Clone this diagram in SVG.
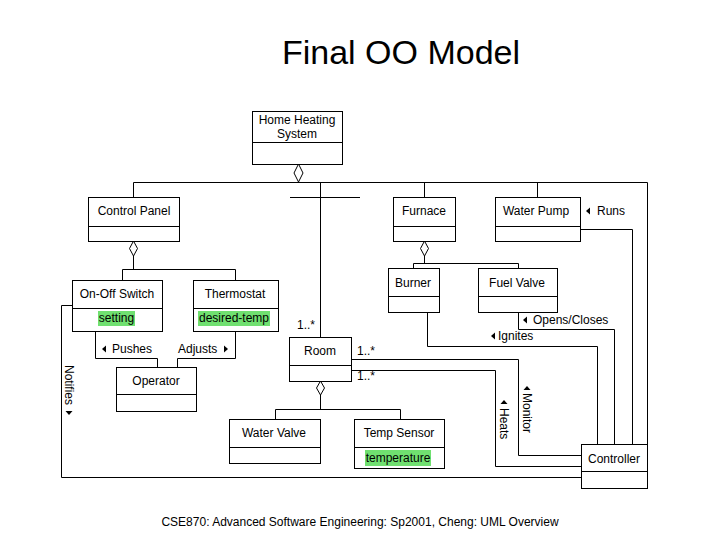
<svg xmlns="http://www.w3.org/2000/svg" width="720" height="540" viewBox="0 0 720 540">
<style>
text{font-family:"Liberation Sans",Arial,sans-serif;font-size:12px;fill:#000}
.c{text-anchor:middle}
.box{fill:#fff;stroke:#000;stroke-width:1}
.ln{fill:none;stroke:#000;stroke-width:1}
.dia{fill:#fff;stroke:#000;stroke-width:1}
.hl{fill:#70e070}
.tri{fill:#000}
</style>
<rect width="720" height="540" fill="#fff"/>
<text x="401" y="64" class="c" style="font-size:34px">Final OO Model</text>

<g id="connectors">
<path class="ln" d="M133.5 182.5H647.5M133.5 182.5V197M320.5 182.5V337M424.5 182.5V197M537.5 182.5V197M647.5 182.5V444"/>
<path class="ln" d="M290 197.5H360"/>
<path class="ln" d="M133.5 256V269.5M122.5 269.5H235.5M122.5 269.5V280M235.5 269.5V280"/>
<path class="ln" d="M424.5 256V263.5M413.5 263.5H518.5M413.5 263.5V268M518.5 263.5V268"/>
<path class="ln" d="M320.5 395V409.5M275.5 409.5H400.5M275.5 409.5V419M400.5 409.5V419"/>
<path class="ln" d="M580 229.5H632.5V444"/>
<path class="ln" d="M518.5 312V329.5H614.5V444"/>
<path class="ln" d="M427.5 312V346.5H597.5V444"/>
<path class="ln" d="M351 359.5H518.5V455.5H581"/>
<path class="ln" d="M351 370.5H495.5V466.5H581"/>
<path class="ln" d="M72 305.5H61.5V477.5H581"/>
<path class="ln" d="M95.5 331V358.5H157.5V367"/>
<path class="ln" d="M235.5 331V358.5H177.5V367"/>
<polygon class="dia" points="298.5,164 303,173 298.5,182 294,173"/>
<polygon class="dia" points="133.5,241 137.5,248.5 133.5,256 129.5,248.5"/>
<polygon class="dia" points="424.5,241 428.5,248.5 424.5,256 420.5,248.5"/>
<polygon class="dia" points="320.5,381 324.5,388 320.5,395 316.5,388"/>
<text x="297" y="329">1..*</text>
<text x="357" y="355">1..*</text>
<text x="357" y="380">1..*</text>
<polygon class="tri" points="586,211 590,207.5 590,214.5"/>
<text x="597" y="215">Runs</text>
<polygon class="tri" points="523,320 527,316.5 527,323.5"/>
<text x="533" y="324">Opens/Closes</text>
<polygon class="tri" points="491,336 495,332.5 495,339.5"/>
<text x="498" y="340">Ignites</text>
<polygon class="tri" points="102,349 106,345.5 106,352.5"/>
<text x="112" y="353">Pushes</text>
<text x="178" y="353">Adjusts</text>
<polygon class="tri" points="228,349 224,345.5 224,352.5"/>
<g transform="translate(523,386) rotate(90)">
<polygon class="tri" points="0,-4 4,-7.5 4,-0.5"/>
<text x="7" y="0">Monitor</text>
</g>
<g transform="translate(500,400) rotate(90)">
<polygon class="tri" points="0,-4 4,-7.5 4,-0.5"/>
<text x="8" y="0">Heats</text>
</g>
<g transform="translate(65,365) rotate(90)">
<text x="0" y="0">Notifies</text>
<polygon class="tri" points="50,-4 46,-7.5 46,-0.5"/>
</g>
</g>

<g id="home-heating-system">
<rect class="box" x="252.5" y="111.5" width="90" height="53"/>
<path class="ln" d="M252.5 142.5H342.5"/>
<text x="297" y="124" class="c">Home Heating</text>
<text x="297" y="138" class="c">System</text>
</g>
<g id="control-panel">
<rect class="box" x="88.5" y="197.5" width="91" height="44"/>
<path class="ln" d="M88.5 226.5H179.5"/>
<text x="134" y="215" class="c">Control Panel</text>
</g>
<g id="furnace">
<rect class="box" x="393.5" y="197.5" width="62" height="44"/>
<path class="ln" d="M393.5 226.5H455.5"/>
<text x="424" y="215" class="c">Furnace</text>
</g>
<g id="water-pump">
<rect class="box" x="495.5" y="197.5" width="85" height="44"/>
<path class="ln" d="M495.5 226.5H580.5"/>
<text x="536" y="215" class="c">Water Pump</text>
</g>
<g id="on-off-switch">
<rect class="box" x="72.5" y="280.5" width="90" height="51"/>
<path class="ln" d="M72.5 308.5H162.5"/>
<text x="117" y="298" class="c">On-Off Switch</text>
<rect class="hl" x="98" y="311" width="37" height="15"/>
<text x="116.5" y="322" class="c">setting</text>
</g>
<g id="thermostat">
<rect class="box" x="193.5" y="280.5" width="85" height="51"/>
<path class="ln" d="M193.5 308.5H278.5"/>
<text x="235" y="298" class="c">Thermostat</text>
<rect class="hl" x="198" y="311" width="72" height="15"/>
<text x="234" y="322" class="c">desired-temp</text>
</g>
<g id="burner">
<rect class="box" x="388.5" y="268.5" width="51" height="44"/>
<path class="ln" d="M388.5 296.5H439.5"/>
<text x="413" y="287" class="c">Burner</text>
</g>
<g id="fuel-valve">
<rect class="box" x="478.5" y="268.5" width="79" height="44"/>
<path class="ln" d="M478.5 296.5H557.5"/>
<text x="517" y="287" class="c">Fuel Valve</text>
</g>
<g id="room">
<rect class="box" x="289.5" y="337.5" width="62" height="44"/>
<path class="ln" d="M289.5 365.5H351.5"/>
<text x="320" y="355" class="c">Room</text>
</g>
<g id="operator">
<rect class="box" x="116.5" y="367.5" width="80" height="44"/>
<path class="ln" d="M116.5 394.5H196.5"/>
<text x="156" y="385" class="c">Operator</text>
</g>
<g id="water-valve">
<rect class="box" x="229.5" y="419.5" width="91" height="44"/>
<path class="ln" d="M229.5 447.5H320.5"/>
<text x="274" y="437" class="c">Water Valve</text>
</g>
<g id="temp-sensor">
<rect class="box" x="354.5" y="419.5" width="90" height="49"/>
<path class="ln" d="M354.5 447.5H444.5"/>
<text x="399" y="437" class="c">Temp Sensor</text>
<rect class="hl" x="365" y="450" width="66" height="16"/>
<text x="398" y="462" class="c">temperature</text>
</g>
<g id="controller">
<rect class="box" x="581.5" y="444.5" width="66" height="44"/>
<path class="ln" d="M581.5 471.5H647.5"/>
<text x="614" y="463" class="c">Controller</text>
</g>
<text x="360" y="526" class="c">CSE870: Advanced Software Engineering: Sp2001, Cheng: UML Overview</text>
</svg>
